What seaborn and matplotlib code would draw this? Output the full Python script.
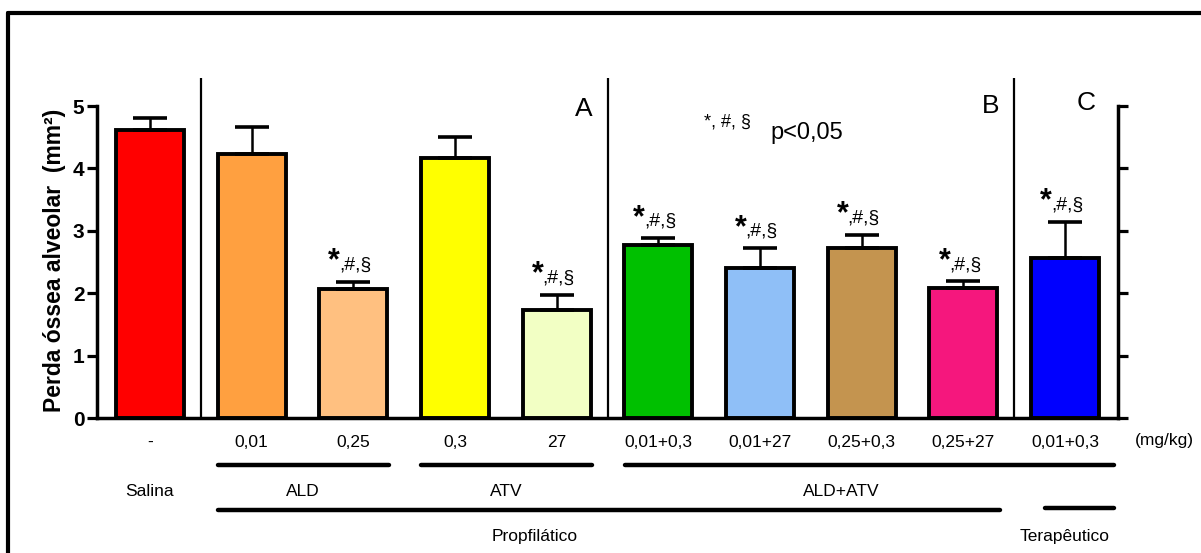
import numpy as np
import pandas as pd
import seaborn as sns
import matplotlib.pyplot as plt
from matplotlib.lines import Line2D
from matplotlib.transforms import blended_transform_factory

# data
grupos = ['Salina', 'ALD 0,01', 'ALD 0,25', 'ATV 0,3', 'ATV 27',
          'ALD+ATV 0,01+0,3', 'ALD+ATV 0,01+27', 'ALD+ATV 0,25+0,3',
          'ALD+ATV 0,25+27', 'Terap 0,01+0,3']
doses = ['-', '0,01', '0,25', '0,3', '27', '0,01+0,3', '0,01+27',
         '0,25+0,3', '0,25+27', '0,01+0,3']
media = [4.61, 4.23, 2.07, 4.17, 1.73, 2.77, 2.40, 2.72, 2.08, 2.56]
epm = [0.20, 0.43, 0.11, 0.33, 0.24, 0.11, 0.32, 0.22, 0.11, 0.58]
signif = [False, False, True, False, True, True, True, True, True, True]
cores = ['#FF0000', '#FFA040', '#FFC080', '#FFFF00', '#F2FFC4',
         '#00C000', '#8FBFF7', '#C4944F', '#F5177D', '#0000FF']

sns.set_style('ticks', {'axes.edgecolor': 'black', 'text.color': 'black',
                        'xtick.color': 'black', 'ytick.color': 'black',
                        'axes.labelcolor': 'black'})
plt.rcParams['font.family'] = ['Liberation Sans', 'DejaVu Sans']

df = pd.DataFrame({'grupo': grupos, 'media': media, 'epm': epm})

fig = plt.figure(figsize=(12.01, 5.53), dpi=100)
ax = fig.add_axes([97 / 1201, 135 / 553, 1021 / 1201, 340 / 553])

sns.barplot(data=df, x='grupo', y='media', hue='grupo', palette=cores,
            saturation=1, width=0.67, edgecolor='black', linewidth=2.8,
            errorbar=None, legend=False, ax=ax)
x = np.arange(len(grupos))
ax.errorbar(x, media, yerr=[np.zeros(len(epm)), epm], fmt='none',
            ecolor='black', elinewidth=1.8, capsize=12, capthick=2.6, zorder=5)

ax.set_xlim(-0.52, 9.52)
ax.set_ylim(0, 5.45)
ax.set_yticks([0, 1, 2, 3, 4, 5])
ax.set_yticklabels(['0', '1', '2', '3', '4', '5'], fontsize=15, fontweight='bold')
ax.set_xticks(x)
ax.set_xticklabels(doses, fontsize=12.5)
ax.tick_params(axis='x', length=0, pad=12)
ax.tick_params(axis='y', length=7, width=2.3, pad=2, right=True, direction='out')
ax.set_xlabel('')
ax.set_ylabel('Perda óssea alveolar  (mm²)', fontsize=16.5, fontweight='bold')
ax.yaxis.set_label_coords(-0.03, 0.465)

for s in ['left', 'right', 'bottom']:
    ax.spines[s].set_linewidth(2.5)
ax.spines['top'].set_visible(False)
ax.spines['left'].set_bounds(0, 5)
ax.spines['right'].set_bounds(0, 5)

# separators between experimental blocks
for xv in [0.5, 4.5, 8.5]:
    ax.axvline(xv, color='black', linewidth=1.6)

# significance marks
for i in range(len(grupos)):
    if signif[i]:
        ytop = media[i] + epm[i]
        ax.annotate('*', (x[i] - 0.13, ytop), xytext=(0, 4), textcoords='offset points',
                    ha='right', va='bottom', fontsize=22, fontweight='bold')
        ax.annotate(',#,§', (x[i] - 0.14, ytop), xytext=(0, 6), textcoords='offset points',
                    ha='left', va='bottom', fontsize=14)

ax.text(4.35, 4.95, 'A', fontsize=19, ha='right', va='center')
ax.text(8.35, 5.0, 'B', fontsize=19, ha='right', va='center')
ax.text(9.3, 5.05, 'C', fontsize=19, ha='right', va='center')
ax.text(5.45, 4.74, '*, #, §', fontsize=13, ha='left', va='center')
ax.text(6.1, 4.57, 'p<0,05', fontsize=17, ha='left', va='center')

# group brackets below the axis
tr = blended_transform_factory(ax.transData, ax.transAxes)
def yb(py):
    return (418 - py) / 340

ax.text(9.98, yb(441), '(mg/kg)', transform=tr, fontsize=12.5, ha='center', va='center')
barras = [(0.67, 2.35, 465), (2.67, 4.35, 465), (4.67, 9.48, 465),
          (0.67, 8.36, 510), (8.8, 9.48, 508)]
for x0, x1, py in barras:
    ax.plot([x0, x1], [yb(py), yb(py)], transform=tr, color='black',
            linewidth=3.2, solid_capstyle='round', clip_on=False)
rotulos = [('Salina', 0, 492), ('ALD', 1.5, 492), ('ATV', 3.5, 492),
           ('ALD+ATV', 6.8, 492), ('Propfilático', 3.78, 537), ('Terapêutico', 9.0, 537)]
for txt, xv, py in rotulos:
    ax.text(xv, yb(py), txt, transform=tr, fontsize=12.5, ha='center', va='center')

# outer frame (cropped)
fig.add_artist(Line2D([8 / 1201, 8 / 1201], [0, 1 - 13 / 553], color='black',
                      linewidth=3, transform=fig.transFigure))
fig.add_artist(Line2D([8 / 1201, 1], [1 - 13 / 553, 1 - 13 / 553], color='black',
                      linewidth=3, transform=fig.transFigure))

fig.savefig('out.png', dpi=100)
